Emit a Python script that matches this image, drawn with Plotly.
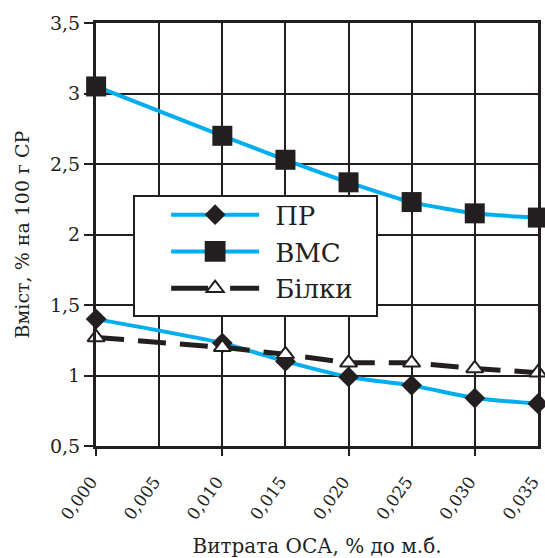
import plotly.graph_objects as go

# OSA dosage, % of dry matter
dose = [0.000, 0.010, 0.015, 0.020, 0.025, 0.030, 0.035]

# Content, % per 100 g of dry matter
pr = [1.40, 1.23, 1.10, 0.99, 0.93, 0.84, 0.80]
vms = [3.05, 2.70, 2.53, 2.37, 2.23, 2.15, 2.12]
bilky = [1.27, 1.20, 1.15, 1.09, 1.09, 1.05, 1.02]

x_ticks = [0.000, 0.005, 0.010, 0.015, 0.020, 0.025, 0.030, 0.035]

BLUE = "#00AEEF"
INK = "#231F20"
FONT = "DejaVu Serif"
X_RANGE = [-0.00001, 0.03501]

fig = go.Figure()

fig.add_trace(go.Scatter(
    x=dose, y=pr, name="ПР", mode="lines+markers", cliponaxis=False,
    line=dict(color=BLUE, width=4, shape="spline", smoothing=0.6),
    marker=dict(symbol="diamond", size=16, color=INK, line=dict(width=0)),
))
fig.add_trace(go.Scatter(
    x=dose, y=vms, name="ВМС", mode="lines+markers", cliponaxis=False,
    line=dict(color=BLUE, width=4, shape="spline", smoothing=0.6),
    marker=dict(symbol="square", size=20, color=INK, line=dict(width=0)),
))
fig.add_trace(go.Scatter(
    x=dose, y=bilky, name="Білки", mode="lines+markers", cliponaxis=False,
    line=dict(color=INK, width=5, dash="28px,14px"),
    marker=dict(symbol="triangle-up", size=15, color="white",
                line=dict(color=INK, width=2)),
))
# carrier for the secondary x axis that draws tick marks every 0.01
fig.add_trace(go.Scatter(
    x=dose, y=pr, xaxis="x2", mode="none", showlegend=False, hoverinfo="skip",
))

fig.update_layout(
    width=545, height=558,
    margin=dict(l=96, r=7, t=23, b=112),
    paper_bgcolor="white", plot_bgcolor="white",
    separators=", ",
    font=dict(family=FONT, color=INK, size=19),
    showlegend=True,
    legend=dict(
        x=0.084, y=0.607, xanchor="left", yanchor="top",
        bgcolor="white", bordercolor=INK, borderwidth=2,
        font=dict(family=FONT, size=26, color=INK),
        itemwidth=130, tracegroupgap=0,
    ),
    xaxis=dict(
        range=X_RANGE, tickvals=x_ticks, tickformat=".3f",
        tickangle=-54, ticks="", showgrid=True, gridcolor=INK, gridwidth=2,
        showline=True, linecolor=INK, linewidth=3, mirror=True,
        zeroline=False, tickfont=dict(size=17),
        ticklabeloverflow="allow", automargin=False,
        ticklabelstandoff=16, ticklabelshift=-5,
        title=dict(text="Витрата ОСА, % до м.б.", font=dict(size=20), standoff=22),
    ),
    xaxis2=dict(
        overlaying="x", anchor="y", side="bottom", range=X_RANGE,
        tickvals=[0.0, 0.01, 0.02, 0.03],
        ticks="outside", ticklen=9, tickwidth=2, tickcolor=INK,
        showticklabels=False, showgrid=False, zeroline=False, showline=False,
        automargin=False,
    ),
    yaxis=dict(
        range=[0.5, 3.5], dtick=0.5, ticks="outside", ticklen=9,
        tickwidth=2, tickcolor=INK, showgrid=True, gridcolor=INK, gridwidth=2,
        showline=True, linecolor=INK, linewidth=3, mirror=True,
        zeroline=False, tickfont=dict(size=19), automargin=False,
        title=dict(text="Вміст, % на 100 г СР", font=dict(size=19), standoff=16),
    ),
)

# Longer key lines in the legend, centred on the marker symbol placed
# a fixed distance before the entry text, and a fixed-size legend frame
legend_keys = """
(function(){
  var gd = document.getElementById('{plot_id}');
  var symbolScale = {'ВМС': 1.3};
  var keyDash = {'Білки': '37px,22px,29px'};
  function place(g, dx){
    if (g.dataset.t0 === undefined) g.dataset.t0 = g.getAttribute('transform') || '';
    g.setAttribute('transform', g.dataset.t0 + ' translate(' + dx + ',0)');
  }
  function centre(el){
    var r = el.getBoundingClientRect();
    return (r.left + r.right) / 2;
  }
  function widen(){
    gd.querySelectorAll('.legend .traces').forEach(function(tr){
      var text = tr.querySelector('text.legendtext');
      var lines = tr.querySelector('.legendlines');
      var syms = tr.querySelector('.legendsymbols');
      if (!text || !lines || !syms) return;
      var name = text.textContent;
      place(lines, 0); place(syms, 0);
      lines.querySelectorAll('path').forEach(function(p){
        p.setAttribute('d', 'M0,0h88');
        if (keyDash[name]) p.style.strokeDasharray = keyDash[name];
      });
      var pt = syms.querySelector('path');
      var s = symbolScale[name];
      if (pt && s) {
        if (pt.dataset.t0 === undefined) pt.dataset.t0 = pt.getAttribute('transform') || '';
        pt.setAttribute('transform', pt.dataset.t0 + ' scale(' + s + ')');
      }
      var target = text.getBoundingClientRect().left - 60;
      if (pt) place(syms, target - centre(pt));
      var lp = lines.querySelector('path');
      if (lp) place(lines, target - centre(lp));
    });
    var bg = gd.querySelector('.legend .bg');
    if (bg) {
      bg.setAttribute('y', 7);
      bg.setAttribute('width', 243);
      bg.setAttribute('height', 120);
    }
  }
  widen();
  gd.on('plotly_afterplot', widen);
})();
"""

fig.write_html("out.html", post_script=legend_keys)
